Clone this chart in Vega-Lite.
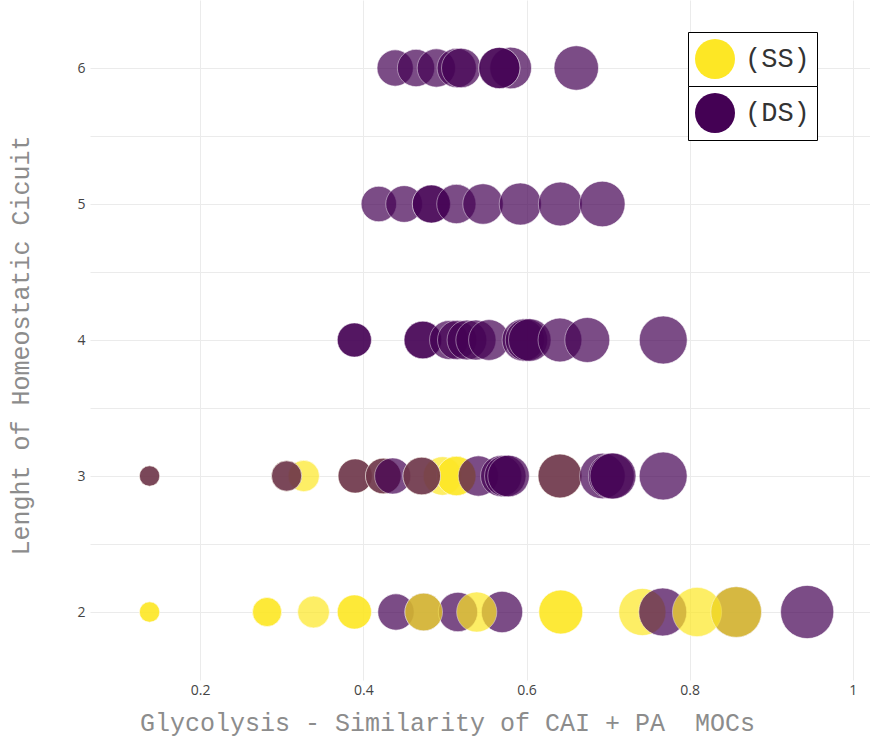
{
  "$schema": "https://vega.github.io/schema/vega-lite/v6.json",
  "width": 780,
  "height": 680,
  "autosize": {"type": "none"},
  "padding": {"left": 90, "top": 0, "right": 0, "bottom": 57},
  "background": "white",
  "config": {"view": {"stroke": null}},
  "data": {"values": [
    {"x": 0.138, "y": 2, "type": "(SS)"},
    {"x": 0.138, "y": 2, "type": "(SS)"},
    {"x": 0.282, "y": 2, "type": "(SS)"},
    {"x": 0.282, "y": 2, "type": "(SS)"},
    {"x": 0.339, "y": 2, "type": "(SS)"},
    {"x": 0.389, "y": 2, "type": "(SS)"},
    {"x": 0.389, "y": 2, "type": "(SS)"},
    {"x": 0.440, "y": 2, "type": "(DS)"},
    {"x": 0.474, "y": 2, "type": "(DS)"},
    {"x": 0.516, "y": 2, "type": "(DS)"},
    {"x": 0.570, "y": 2, "type": "(DS)"},
    {"x": 0.742, "y": 2, "type": "(SS)"},
    {"x": 0.767, "y": 2, "type": "(DS)"},
    {"x": 0.857, "y": 2, "type": "(DS)"},
    {"x": 0.944, "y": 2, "type": "(DS)"},
    {"x": 0.474, "y": 2, "type": "(SS)"},
    {"x": 0.539, "y": 2, "type": "(SS)"},
    {"x": 0.642, "y": 2, "type": "(SS)"},
    {"x": 0.642, "y": 2, "type": "(SS)"},
    {"x": 0.809, "y": 2, "type": "(SS)"},
    {"x": 0.857, "y": 2, "type": "(SS)"},

    {"x": 0.138, "y": 3, "type": "(SS)"},
    {"x": 0.138, "y": 3, "type": "(DS)"},
    {"x": 0.327, "y": 3, "type": "(SS)"},
    {"x": 0.306, "y": 3, "type": "(SS)"},
    {"x": 0.306, "y": 3, "type": "(DS)"},
    {"x": 0.390, "y": 3, "type": "(SS)"},
    {"x": 0.390, "y": 3, "type": "(DS)"},
    {"x": 0.4245, "y": 3, "type": "(SS)"},
    {"x": 0.4245, "y": 3, "type": "(DS)"},
    {"x": 0.436, "y": 3, "type": "(DS)"},
    {"x": 0.497, "y": 3, "type": "(SS)"},
    {"x": 0.514, "y": 3, "type": "(SS)"},
    {"x": 0.514, "y": 3, "type": "(SS)"},
    {"x": 0.4716, "y": 3, "type": "(SS)"},
    {"x": 0.4716, "y": 3, "type": "(DS)"},
    {"x": 0.541, "y": 3, "type": "(DS)"},
    {"x": 0.569, "y": 3, "type": "(DS)"},
    {"x": 0.574, "y": 3, "type": "(DS)"},
    {"x": 0.578, "y": 3, "type": "(DS)"},
    {"x": 0.641, "y": 3, "type": "(SS)"},
    {"x": 0.641, "y": 3, "type": "(DS)"},
    {"x": 0.693, "y": 3, "type": "(DS)"},
    {"x": 0.704, "y": 3, "type": "(DS)"},
    {"x": 0.706, "y": 3, "type": "(DS)"},
    {"x": 0.7675, "y": 3, "type": "(DS)"},

    {"x": 0.389, "y": 4, "type": "(DS)"},
    {"x": 0.389, "y": 4, "type": "(DS)"},
    {"x": 0.473, "y": 4, "type": "(DS)"},
    {"x": 0.473, "y": 4, "type": "(DS)"},
    {"x": 0.505, "y": 4, "type": "(DS)"},
    {"x": 0.515, "y": 4, "type": "(DS)"},
    {"x": 0.527, "y": 4, "type": "(DS)"},
    {"x": 0.538, "y": 4, "type": "(DS)"},
    {"x": 0.554, "y": 4, "type": "(DS)"},
    {"x": 0.596, "y": 4, "type": "(DS)"},
    {"x": 0.600, "y": 4, "type": "(DS)"},
    {"x": 0.604, "y": 4, "type": "(DS)"},
    {"x": 0.641, "y": 4, "type": "(DS)"},
    {"x": 0.6745, "y": 4, "type": "(DS)"},
    {"x": 0.7676, "y": 4, "type": "(DS)"},

    {"x": 0.419, "y": 5, "type": "(DS)"},
    {"x": 0.450, "y": 5, "type": "(DS)"},
    {"x": 0.4834, "y": 5, "type": "(DS)"},
    {"x": 0.4834, "y": 5, "type": "(DS)"},
    {"x": 0.514, "y": 5, "type": "(DS)"},
    {"x": 0.5467, "y": 5, "type": "(DS)"},
    {"x": 0.5924, "y": 5, "type": "(DS)"},
    {"x": 0.6414, "y": 5, "type": "(DS)"},
    {"x": 0.6929, "y": 5, "type": "(DS)"},

    {"x": 0.439, "y": 6, "type": "(DS)"},
    {"x": 0.4646, "y": 6, "type": "(DS)"},
    {"x": 0.4895, "y": 6, "type": "(DS)"},
    {"x": 0.5145, "y": 6, "type": "(DS)"},
    {"x": 0.520, "y": 6, "type": "(DS)"},
    {"x": 0.5806, "y": 6, "type": "(DS)"},
    {"x": 0.5667, "y": 6, "type": "(DS)"},
    {"x": 0.5667, "y": 6, "type": "(DS)"},
    {"x": 0.661, "y": 6, "type": "(DS)"}
  ]},
  "encoding": {
    "x": {
      "field": "x", "type": "quantitative",
      "scale": {"domain": [0.065, 1.021], "nice": false, "zero": false},
      "axis": {
        "values": [0.2, 0.4, 0.6, 0.8, 1],
        "format": "~g",
        "title": "Glycolysis - Similarity of CAI + PA\u00a0 MOCs",
        "titleFont": "Liberation Mono", "titleFontSize": 25, "titleFontWeight": "normal", "titleColor": "#8c8c8c",
        "titleX": 357, "titleY": 42, "titleBaseline": "middle", "titleAlign": "center", "titleAnchor": null,
        "labelFont": "Open Sans", "labelFontSize": 14, "labelColor": "#444444", "labelPadding": 3,
        "domain": false, "ticks": false,
        "grid": true, "gridColor": "#ebebeb", "gridWidth": 1
      }
    },
    "y": {
      "field": "y", "type": "quantitative",
      "scale": {"domain": [1.5, 6.5], "nice": false, "zero": false},
      "axis": {
        "values": [2, 2.5, 3, 3.5, 4, 4.5, 5, 5.5, 6],
        "labelExpr": "datum.value % 1 === 0 ? format(datum.value, 'd') : ''",
        "title": "Lenght of Homeostatic Cicuit",
        "titleFont": "Liberation Mono", "titleFontSize": 25, "titleFontWeight": "normal", "titleColor": "#8c8c8c",
        "titleX": -70, "titleY": 345, "titleBaseline": "middle", "titleAlign": "center", "titleAngle": -90,
        "labelFont": "Open Sans", "labelFontSize": 14, "labelColor": "#444444", "labelPadding": 5,
        "domain": false, "ticks": false,
        "grid": true, "gridColor": "#ebebeb", "gridWidth": 1
      }
    },
    "size": {
      "field": "x", "type": "quantitative",
      "scale": {"domain": [0, 1], "range": [0, 3000], "zero": true},
      "legend": null
    }
  },
  "layer": [
    {
      "mark": {"type": "circle", "opacity": 0.7, "stroke": "white", "strokeWidth": 0.6, "clip": true},
      "encoding": {
        "color": {
          "field": "type", "type": "nominal",
          "scale": {"domain": ["(SS)", "(DS)"], "range": ["#fde725", "#440154"]},
          "legend": null
        }
      }
    },
    {
      "transform": [{"filter": "datum.type === '(SS)'"}],
      "mark": {"type": "circle", "opacity": 0, "clip": true},
      "encoding": {
        "color": {
          "field": "type", "type": "nominal",
          "scale": {"domain": ["(SS)"], "range": ["#fde725"]},
          "legend": {
            "title": null,
            "orient": "none", "legendX": 598, "legendY": 32,
            "symbolType": "circle", "symbolSize": 1600, "symbolOpacity": 1, "symbolStrokeWidth": 0,
            "labelFont": "Liberation Mono", "labelFontSize": 27, "labelColor": "#333333", "labelOffset": 10,
            "padding": 7,
            "strokeColor": "black", "fillColor": "white"
          }
        }
      }
    },
    {
      "transform": [{"filter": "datum.type === '(DS)'"}],
      "mark": {"type": "circle", "opacity": 0, "clip": true},
      "encoding": {
        "color": {
          "field": "type", "type": "nominal",
          "scale": {"domain": ["(DS)"], "range": ["#440154"]},
          "legend": {
            "title": null,
            "orient": "none", "legendX": 598, "legendY": 86,
            "symbolType": "circle", "symbolSize": 1600, "symbolOpacity": 1, "symbolStrokeWidth": 0,
            "labelFont": "Liberation Mono", "labelFontSize": 27, "labelColor": "#333333", "labelOffset": 10,
            "padding": 7,
            "strokeColor": "black", "fillColor": "white"
          }
        }
      }
    }
  ],
  "resolve": {"scale": {"color": "independent"}, "legend": {"color": "independent"}}
}
